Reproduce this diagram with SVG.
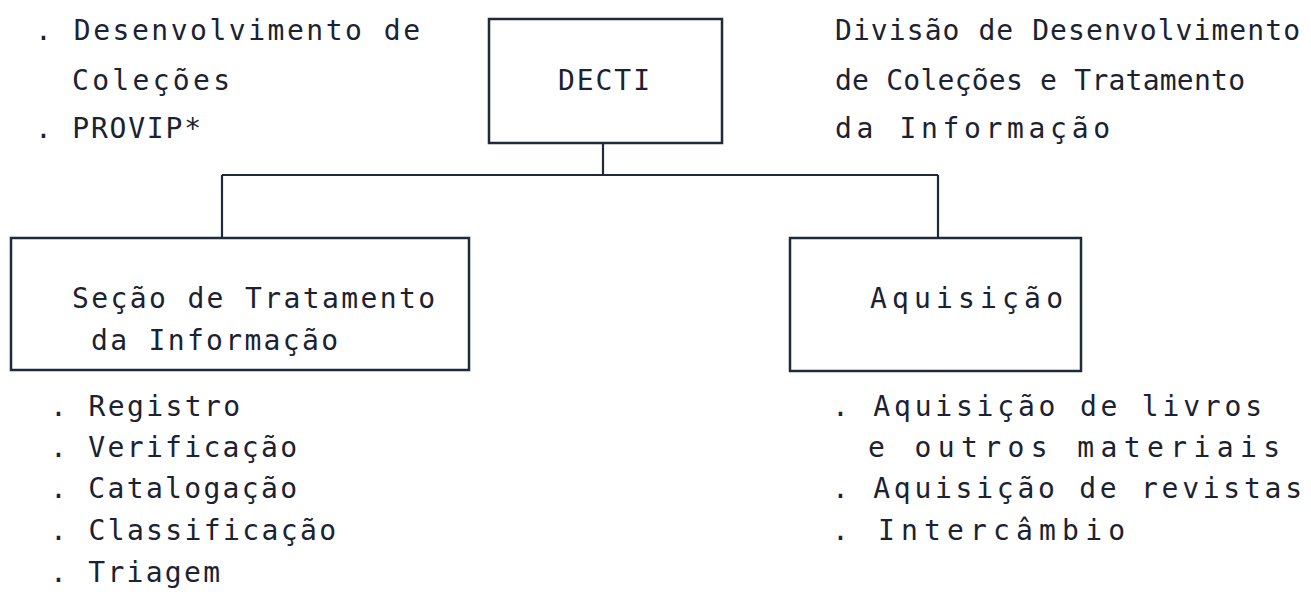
<svg xmlns="http://www.w3.org/2000/svg" width="1311" height="606" viewBox="0 0 1311 606">
<style>
text{font-family:"DejaVu Sans Mono","Liberation Mono",monospace;font-size:28px;fill:#1b2231;}
.box{fill:#ffffff;stroke:#1f2a3a;stroke-width:2.5;}
.con{fill:none;stroke:#1f2a3a;stroke-width:2.2;}
</style>
<rect width="1311" height="606" fill="#ffffff"/>
<g id="connectors">
<path class="con" d="M603,143 V175"/>
<path class="con" d="M222,175 H938"/>
<path class="con" d="M222,175 V238"/>
<path class="con" d="M938,175 V238"/>
</g>
<g id="decti">
<rect class="box" x="489" y="19" width="233" height="124"/>
<text x="558" y="90" textLength="92" lengthAdjust="spacing">DECTI</text>
</g>
<g id="secao">
<rect class="box" x="11" y="238" width="458" height="132"/>
<text x="72" y="308" textLength="363" lengthAdjust="spacing">Seção de Tratamento</text>
<text x="91" y="350" textLength="247" lengthAdjust="spacing">da Informação</text>
</g>
<g id="aquisicao">
<rect class="box" x="790" y="238" width="291" height="133"/>
<text x="870" y="308" textLength="193" lengthAdjust="spacing">Aquisição</text>
</g>
<g id="notes-top-left">
<text x="35" y="40" textLength="385" lengthAdjust="spacing">. Desenvolvimento de</text>
<text x="72" y="90" textLength="158" lengthAdjust="spacing">Coleções</text>
<text x="35" y="138" textLength="166" lengthAdjust="spacing">. PROVIP*</text>
</g>
<g id="notes-top-right">
<text x="835" y="40" textLength="465" lengthAdjust="spacing">Divisão de Desenvolvimento</text>
<text x="835" y="90" textLength="410" lengthAdjust="spacing">de Coleções e Tratamento</text>
<text x="835" y="138" textLength="275" lengthAdjust="spacing">da Informação</text>
</g>
<g id="list-left">
<text x="50" y="416" textLength="190" lengthAdjust="spacing">. Registro</text>
<text x="50" y="457" textLength="247" lengthAdjust="spacing">. Verificação</text>
<text x="50" y="498" textLength="247" lengthAdjust="spacing">. Catalogação</text>
<text x="50" y="540" textLength="286" lengthAdjust="spacing">. Classificação</text>
<text x="50" y="582" textLength="170" lengthAdjust="spacing">. Triagem</text>
</g>
<g id="list-right">
<text x="832" y="416" textLength="430" lengthAdjust="spacing">. Aquisição de livros</text>
<text x="868" y="457" textLength="412" lengthAdjust="spacing">e outros materiais</text>
<text x="832" y="498" textLength="470" lengthAdjust="spacing">. Aquisição de revistas</text>
<text x="832" y="540" textLength="293" lengthAdjust="spacing">. Intercâmbio</text>
</g>
</svg>
